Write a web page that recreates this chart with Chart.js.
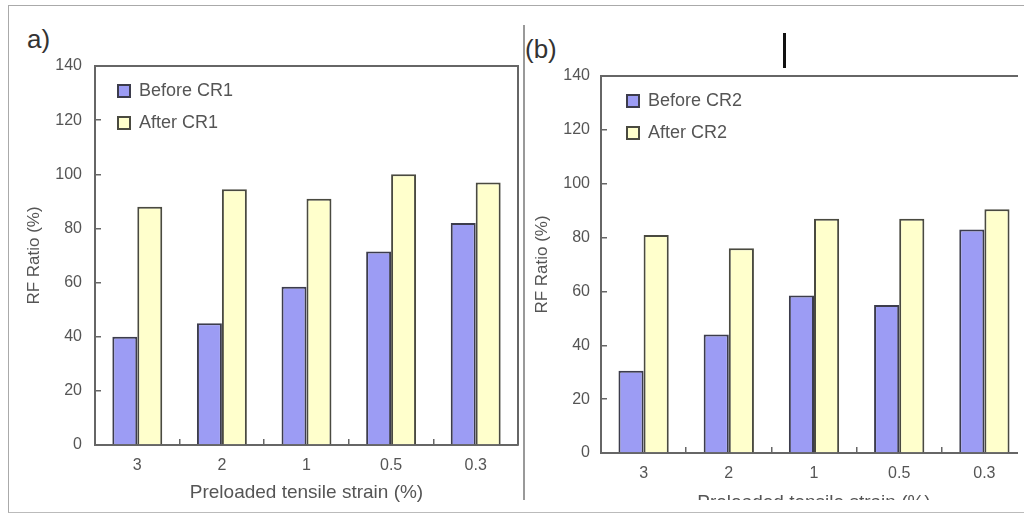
<!DOCTYPE html>
<html>
<head>
<meta charset="utf-8">
<title>RF Ratio before and after CR</title>
<script src="https://cdn.jsdelivr.net/npm/chart.js"></script>
<style>
    body { margin: 0; background: #fff; }
    #page { position: relative; width: 1024px; height: 516px; overflow: hidden; background: #fff; font-family: "Liberation Sans", Arial, sans-serif; }
    #frame { position: absolute; left: 8px; top: 5px; width: 1016px; height: 506px; border-left: 1px solid #aaa; border-top: 1px solid #aaa; border-bottom: 1px solid #bbb; }
    #sep { position: absolute; left: 523px; top: 25px; width: 2px; height: 475px; background: #999; }
    #cursor { position: absolute; left: 783px; top: 33px; width: 3px; height: 35px; background: #111; }
    .tag { position: absolute; font-size: 26px; line-height: 25px; color: #333; }
    #wrapA { position: absolute; left: 0; top: 0; width: 522px; height: 516px; }
    #wrapB { position: absolute; left: 522px; top: 0; width: 496px; height: 500px; overflow: hidden; }
    #innerB { position: relative; width: 510px; height: 516px; }
</style>
</head>
<body>
<div id="page">
    <div id="frame"></div>
    <div id="sep"></div>
    <div id="cursor"></div>
    <div class="tag" style="left:27px; top:27px;">a)</div>
    <div class="tag" style="left:525px; top:37px;">(b)</div>
    <div id="wrapA"><canvas id="chartCR1"></canvas></div>
    <div id="wrapB"><div id="innerB"><canvas id="chartCR2"></canvas></div></div>
</div>

<script>
const strainLabels = ['3', '2', '1', '0.5', '0.3'];

const beforeCR1 = [40, 45, 58.5, 71.5, 82];
const afterCR1 = [88, 94.5, 91, 100, 97];

const beforeCR2 = [30.5, 44, 58.5, 55, 83];
const afterCR2 = [81, 76, 87, 87, 90.5];

const yMin = 0;
const yMax = 140;
const yStep = 20;

const textGray = '#555';
const axisGray = '#666';

// box line along top (and right) of the plot area
const plotFrame = {
    id: 'plotFrame',
    afterDatasetsDraw(chart, args, opts) {
        const { ctx, chartArea: a } = chart;
        ctx.save();
        ctx.strokeStyle = opts.color || axisGray;
        ctx.lineWidth = opts.width || 2;
        ctx.beginPath();
        ctx.moveTo(a.left, a.top);
        ctx.lineTo(a.right, a.top);
        if (opts.right) {
            ctx.lineTo(a.right, a.bottom);
        }
        ctx.stroke();
        ctx.restore();
    }
};

// put the legend inside the plot, a little away from the axis corner
const legendNudge = {
    id: 'legendNudge',
    afterLayout(chart, args, opts) {
        const l = chart.legend;
        const a = chart.chartArea;
        if (!l) return;
        const w = l.right - l.left;
        const h = l.bottom - l.top;
        l.left = a.left + opts.x; l.right = l.left + w;
        l.top = a.top + opts.y; l.bottom = l.top + h;
    }
};

function rfOptions(o) {
    return {
        responsive: true,
        maintainAspectRatio: false,
        animation: false,
        layout: { padding: o.padding },
        plugins: {
            legend: {
                position: 'chartArea',
                align: 'start',
                labels: {
                    boxWidth: 12,
                    boxHeight: 12,
                    padding: 14,
                    color: textGray,
                    font: { family: '"Liberation Sans", Arial, sans-serif', size: 18 }
                }
            },
            tooltip: { enabled: false },
            legendNudge: o.nudge,
            plotFrame: { right: o.frameRight, color: axisGray, width: 2 }
        },
        scales: {
            x: {
                grid: { drawOnChartArea: false, offset: true, tickLength: -6, color: axisGray, lineWidth: 1.5 },
                border: { color: axisGray, width: 2 },
                ticks: { color: textGray, padding: 17, font: { family: '"Liberation Sans", Arial, sans-serif', size: 16 } },
                title: {
                    display: true,
                    text: 'Preloaded tensile strain (%)',
                    color: textGray,
                    padding: 0,
                    font: { family: '"Liberation Sans", Arial, sans-serif', size: 19 }
                },
                afterFit(scale) { scale.height = o.xHeight; }
            },
            y: {
                min: yMin,
                max: yMax,
                grid: { drawOnChartArea: false, tickLength: -6, color: axisGray, lineWidth: 1.5 },
                border: { color: axisGray, width: 2 },
                ticks: { stepSize: yStep, color: textGray, padding: o.yPad, font: { family: '"Liberation Sans", Arial, sans-serif', size: 16 } },
                title: {
                    display: true,
                    text: 'RF Ratio (%)',
                    color: textGray,
                    padding: 0,
                    font: { family: '"Liberation Sans", Arial, sans-serif', size: 17 }
                },
                afterFit(scale) { scale.width = o.yWidth; }
            }
        }
    };
}

//chart (a) CR1
new Chart(document.getElementById('chartCR1'), {
    type: 'bar',
    data: {
        labels: strainLabels,
        datasets: [{
            label: 'Before CR1',
            data: beforeCR1,
            backgroundColor: '#9c9cf4',
            borderColor: '#3c3c4c',
            borderWidth: 2,
            categoryPercentage: 0.59,
            barPercentage: 1
        }, {
            label: 'After CR1',
            data: afterCR1,
            backgroundColor: '#ffffcc',
            borderColor: '#4a4a40',
            borderWidth: 2,
            categoryPercentage: 0.59,
            barPercentage: 1
        }]
    },
    options: rfOptions({
        padding: { left: 24, top: 66, right: 4, bottom: 12 },
        yWidth: 71,
        xHeight: 59,
        yPad: 19,
        frameRight: true,
        nudge: { x: 9, y: 2 }
    }),
    plugins: [plotFrame, legendNudge]
});

//chart (b) CR2
new Chart(document.getElementById('chartCR2'), {
    type: 'bar',
    data: {
        labels: strainLabels,
        datasets: [{
            label: 'Before CR2',
            data: beforeCR2,
            backgroundColor: '#9c9cf4',
            borderColor: '#3c3c4c',
            borderWidth: 2,
            categoryPercentage: 0.59,
            barPercentage: 1
        }, {
            label: 'After CR2',
            data: afterCR2,
            backgroundColor: '#ffffcc',
            borderColor: '#4a4a40',
            borderWidth: 2,
            categoryPercentage: 0.59,
            barPercentage: 1
        }]
    },
    options: rfOptions({
        padding: { left: 10, top: 76, right: 5, bottom: 2 },
        yWidth: 69,
        xHeight: 61,
        yPad: 17,
        frameRight: false,
        nudge: { x: 12, y: 2 }
    }),
    plugins: [plotFrame, legendNudge]
});
</script>
</body>
</html>
